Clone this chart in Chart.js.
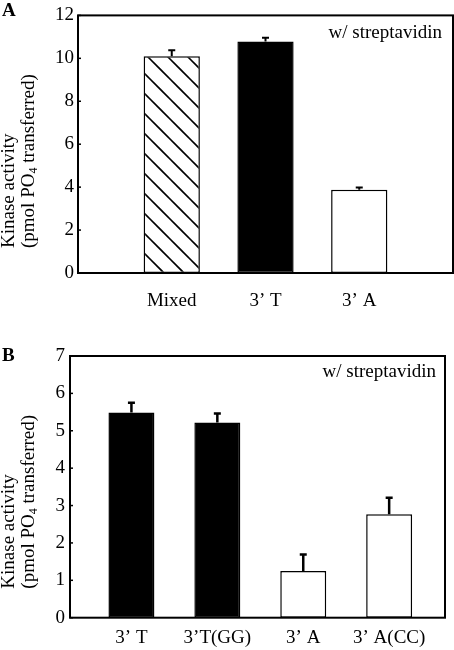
<!DOCTYPE html>
<html><head><meta charset="utf-8">
<script src="https://cdn.jsdelivr.net/npm/chart.js@4.4.1/dist/chart.umd.min.js"></script>
<style>
html,body{margin:0;padding:0;background:#fff;}
#wrap{position:relative;width:454px;height:650px;overflow:hidden;background:#fff;}
canvas{position:absolute;left:0;}
#cA{top:0;}
#cB{top:320px;}
</style></head><body>
<div id="wrap"><canvas id="cA" width="454" height="315"></canvas><canvas id="cB" width="454" height="330"></canvas></div>
<script>
// ---- data ----
const labelsA = ['Mixed', '3\u2019 T', '3\u2019 A'];
const valuesA = [10.1, 10.78, 3.88];
const errorsA = [0.28, 0.18, 0.10];
const yMaxA = 12, yStepA = 2;

const labelsB = ['3\u2019 T', '3\u2019T(GG)', '3\u2019 A', '3\u2019 A(CC)'];
const valuesB = [5.49, 5.22, 1.25, 2.77];
const errorsB = [0.26, 0.24, 0.44, 0.44];
const yMaxB = 7, yStepB = 1;

const annotation = 'w/ streptavidin';
const yTitle1 = 'Kinase activity';
const SERIF = "'Liberation Serif', 'Times New Roman', serif";

function hatchPattern(ctx) {
  const t = document.createElement('canvas');
  t.width = 20; t.height = 20;
  const c = t.getContext('2d');
  c.fillStyle = '#fff'; c.fillRect(0, 0, 20, 20);
  c.strokeStyle = '#000'; c.lineWidth = 1.6;
  for (const k of [-20, 0, 20]) {
    c.beginPath(); c.moveTo(11 + k - 4, -4); c.lineTo(11 + k + 24, 24); c.stroke();
  }
  return ctx.createPattern(t, 'repeat');
}

function makeDecor(cfg) {
  return {
    id: 'decor',
    afterDatasetsDraw(chart) {
      const ctx = chart.ctx, ys = chart.scales.y;
      const meta = chart.getDatasetMeta(0);
      ctx.save();
      ctx.strokeStyle = '#000';
      ctx.lineWidth = cfg.errWidth;
      cfg.values.forEach((v, i) => {
        const el = meta.data[i];
        const yTop = ys.getPixelForValue(v);
        const yErr = ys.getPixelForValue(v + cfg.errors[i]);
        ctx.beginPath();
        ctx.moveTo(el.x, yTop); ctx.lineTo(el.x, yErr);
        ctx.moveTo(el.x - 3.5, yErr); ctx.lineTo(el.x + 3.5, yErr);
        ctx.stroke();
      });
      ctx.restore();
    },
    afterDraw(chart) {
      const ctx = chart.ctx, a = chart.chartArea, ys = chart.scales.y;
      ctx.save();
      ctx.strokeStyle = '#000'; ctx.lineWidth = 2;
      ctx.strokeRect(a.left, a.top, a.right - a.left, a.bottom - a.top);
      ctx.lineWidth = 1.5;
      ys.ticks.forEach(t => {
        const y = ys.getPixelForValue(t.value);
        ctx.beginPath(); ctx.moveTo(a.left, y); ctx.lineTo(a.left + 3, y); ctx.stroke();
      });
      ctx.fillStyle = '#000';
      ctx.font = `bold 19px ${SERIF}`;
      ctx.textAlign = 'left'; ctx.textBaseline = 'middle';
      ctx.fillText(cfg.letter, 2, cfg.letterY);
      ctx.font = `19px ${SERIF}`;
      ctx.textAlign = 'right';
      ctx.fillText(annotation, a.right - cfg.annRight, a.top + cfg.annTop);
      ctx.textAlign = 'left';
      ctx.save();
      ctx.translate(9, a.bottom - cfg.titleUp); ctx.rotate(-Math.PI / 2);
      ctx.fillText(yTitle1, 0, 0);
      ctx.restore();
      ctx.save();
      ctx.translate(29, a.bottom - cfg.titleUp); ctx.rotate(-Math.PI / 2);
      let s = '(pmol PO';
      ctx.fillText(s, 0, 0);
      let w = ctx.measureText(s).width;
      ctx.font = `12px ${SERIF}`;
      ctx.fillText('4', w, 5);
      w += ctx.measureText('4').width;
      ctx.font = `19px ${SERIF}`;
      ctx.fillText(' transferred)', w, 0);
      ctx.restore();
      ctx.restore();
    }
  };
}

function build(canvasId, labels, values, errors, colors, opt) {
  const el = document.getElementById(canvasId);
  const ctx = el.getContext('2d');
  const bg = colors.map(c => c === 'hatch' ? hatchPattern(ctx) : c);
  return new Chart(ctx, {
    type: 'bar',
    data: {
      datasets: [{
        data: values.map((v, i) => ({ x: i, y: v })),
        backgroundColor: bg,
        borderColor: '#000',
        borderWidth: 1.5,
        borderSkipped: false,
        barPercentage: opt.barPct,
        categoryPercentage: 1
      }]
    },
    options: {
      responsive: false,
      animation: false,
      events: [],
      layout: { padding: { left: 0, right: opt.padRight, top: opt.padTop, bottom: 0 } },
      plugins: { legend: { display: false }, tooltip: { enabled: false } },
      scales: {
        x: {
          type: 'linear',
          offset: false,
          min: opt.xMin, max: opt.xMax,
          grid: { display: false, drawTicks: false, offset: false },
          border: { display: false },
          afterBuildTicks: s => { s.ticks = labels.map((_, i) => ({ value: i })); },
          afterFit: s => { s.height = opt.xHeight; },
          ticks: {
            autoSkip: false, maxRotation: 0,
            padding: opt.xPad,
            color: '#000',
            font: { family: SERIF, size: 19 },
            callback: v => labels[v] ?? ''
          }
        },
        y: {
          min: 0, max: opt.yMax,
          grid: { display: false, drawTicks: false },
          border: { display: false },
          afterFit: s => { s.width = opt.yWidth; },
          ticks: {
            stepSize: opt.yStep,
            padding: opt.yPad,
            color: '#000',
            font: { family: SERIF, size: 19 }
          }
        }
      }
    },
    plugins: [makeDecor({ values, errors, errWidth: opt.errWidth, letter: opt.letter, letterY: opt.letterY,
      annRight: opt.annRight, annTop: opt.annTop, titleUp: opt.titleUp })]
  });
}

build('cA', labelsA, valuesA, errorsA, ['hatch', '#000', '#fff'], {
  barPct: 0.6, padRight: 1, padTop: 11, xMin: -1, xMax: 3, xHeight: 42, xPad: 17,
  yMax: yMaxA, yStep: yStepA, yWidth: 78, yPad: 4, errWidth: 2,
  letter: 'A', letterY: 11, annRight: 11, annTop: 18, titleUp: 25
});
build('cB', labelsB, valuesB, errorsB, ['#000', '#000', '#fff', '#fff'], {
  barPct: 0.535, padRight: 9, padTop: 36, xMin: -0.715, xMax: 3.65, xHeight: 32.3, xPad: 9.4,
  yMax: yMaxB, yStep: yStepB, yWidth: 70, yPad: 5, errWidth: 2.5,
  letter: 'B', letterY: 36, annRight: 9, annTop: 16, titleUp: 29
});
</script>
</body></html>
